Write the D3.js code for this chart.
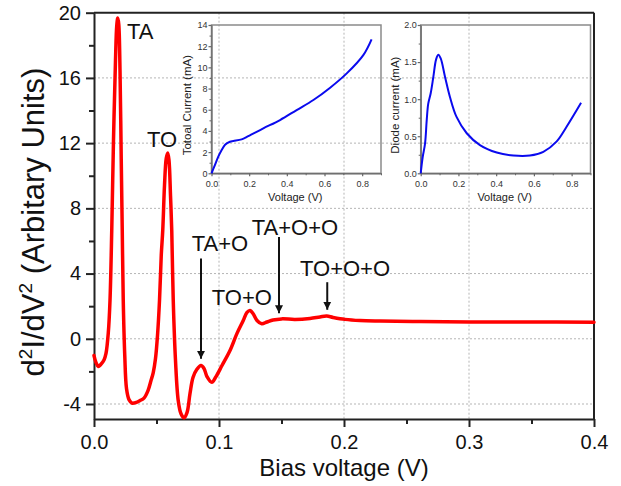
<!DOCTYPE html>
<html>
<head>
<meta charset="utf-8">
<script src="https://cdn.jsdelivr.net/npm/d3@7"></script>
<style>
  html, body { margin: 0; padding: 0; background: #fff; }
  svg { display: block; font-family: "Liberation Sans", Arial, sans-serif; }
</style>
</head>
<body>
<svg id="chart" width="621" height="486"></svg>
<script>
// ---------- DATA ----------
// Main curve: bias voltage (V) and d2I/dV2 (arbitrary units)
const biasVoltage = [0, 0.0016, 0.0034, 0.0054, 0.008, 0.0096, 0.0114, 0.0128, 0.0142, 0.0156, 0.0172, 0.0182, 0.0190, 0.0198, 0.0208, 0.0218, 0.0226, 0.0234, 0.0246, 0.026, 0.028, 0.0304, 0.0336, 0.0368, 0.04, 0.0432, 0.0456, 0.0474, 0.0492, 0.0508, 0.0524, 0.0538, 0.055, 0.0564, 0.0578, 0.059, 0.06, 0.0612, 0.0622, 0.0634, 0.0652, 0.0674, 0.0696, 0.072, 0.0744, 0.0768, 0.0792, 0.0822, 0.0856, 0.088, 0.0904, 0.0942, 0.0976, 0.1024, 0.1088, 0.1144, 0.1194, 0.1224, 0.1248, 0.1272, 0.1304, 0.1342, 0.1384, 0.1432, 0.15, 0.1608, 0.1728, 0.1808, 0.1862, 0.1912, 0.2008, 0.2128, 0.2288, 0.2608, 0.3008, 0.3488, 0.4];
const d2IdV2 = [-1.03, -1.46, -1.70, -1.58, -1.30, -0.9, 0.33, 2.35, 6.65, 12.2, 17.1, 19.2, 19.67, 19.3, 16.5, 10.95, 6.65, 2.35, -1.0, -3.05, -3.73, -3.94, -3.91, -3.79, -3.64, -3.18, -2.56, -2.07, -1.21, 0.2, 2.35, 5.12, 6.65, 9.4, 11.07, 11.4, 10.95, 8.8, 6.65, 2.35, -1.33, -3.8, -4.6, -4.85, -4.53, -3.36, -2.38, -1.89, -1.64, -1.82, -2.32, -2.67, -2.32, -1.64, -0.72, 0.33, 1.12, 1.62, 1.74, 1.55, 1.12, 0.92, 1.03, 1.15, 1.22, 1.19, 1.25, 1.34, 1.39, 1.31, 1.19, 1.12, 1.09, 1.06, 1.03, 1.03, 1.02];

// Inset 1: total current
const inset1Voltage = [0, 0.018, 0.036, 0.054, 0.072, 0.098, 0.116, 0.16, 0.195, 0.275, 0.364, 0.452, 0.541, 0.63, 0.718, 0.806, 0.85];
const inset1Current = [0, 0.78, 1.57, 2.2, 2.7, 2.98, 3.05, 3.2, 3.5, 4.24, 5.03, 5.97, 6.92, 8.08, 9.43, 11.16, 12.65];

// Inset 2: diode current
const inset2Voltage = [0, 0.0106, 0.023, 0.032, 0.040, 0.053, 0.067, 0.081, 0.093, 0.106, 0.129, 0.155, 0.19, 0.244, 0.314, 0.403, 0.491, 0.579, 0.65, 0.721, 0.774, 0.85];
const inset2Current = [0, 0.22, 0.40, 0.72, 0.94, 1.08, 1.30, 1.53, 1.60, 1.55, 1.30, 1.03, 0.76, 0.54, 0.38, 0.28, 0.24, 0.24, 0.29, 0.43, 0.63, 0.95];

// Tick values
const mainXTicks = [0, 0.1, 0.2, 0.3, 0.4];
const mainXMinor = [0.05, 0.15, 0.25, 0.35];
const mainYTicks = [-4, 0, 4, 8, 12, 16, 20];
const mainYMinor = [-2, 2, 6, 10, 14, 18];
const inset1YTicks = [0, 2, 4, 6, 8, 10, 12, 14];
const inset1YMinor = [1, 3, 5, 7, 9, 11, 13];
const inset2YTicks = [0, 0.5, 1.0, 1.5, 2.0];
const inset2YMinor = [0.25, 0.75, 1.25, 1.75];
const insetXTicks = [0, 0.2, 0.4, 0.6, 0.8];
const insetXMinor = [0.1, 0.3, 0.5, 0.7, 0.9];

// Peak labels (data coordinates) and arrows
const peakLabels = ["TA", "TO", "TA+O", "TO+O", "TA+O+O", "TO+O+O"];
const peakLabelX = [0.0264, 0.0424, 0.0782, 0.0942, 0.1262, 0.1648];
const peakLabelY = [18.38, 11.75, 5.36, 2.05, 6.35, 3.83];
const arrowX = [0.0856, 0.148, 0.1866];
const arrowFrom = [4.93, 6.24, 3.47];
const arrowTo = [-1.23, 1.57, 1.78];

// ---------- LAYOUT ----------
const svg = d3.select("#chart");
const M = { left: 94, right: 594, top: 12.7, bottom: 419 };

const x = d3.scaleLinear().domain([0, 0.4]).range([M.left, M.right]);
const y = d3.scaleLinear().domain([-4.92, 20]).range([M.bottom, M.top]);

// Grid
const grid = svg.append("g");
grid.selectAll("line.gx").data(mainXTicks.slice(1, -1)).join("line")
  .attr("x1", d => x(d)).attr("x2", d => x(d))
  .attr("y1", M.top).attr("y2", M.bottom)
  .attr("stroke", "#b5b5b5").attr("stroke-width", 1).attr("stroke-dasharray", "2,2");
grid.selectAll("line.gy").data(mainYTicks.slice(0, -1)).join("line")
  .attr("x1", M.left).attr("x2", M.right)
  .attr("y1", d => y(d)).attr("y2", d => y(d))
  .attr("stroke", "#b5b5b5").attr("stroke-width", 1).attr("stroke-dasharray", "2,2");

// Axes
function styleAxis(g, color, width) {
  g.select(".domain").attr("stroke", color).attr("stroke-width", width);
  g.selectAll(".tick line").attr("stroke", color).attr("stroke-width", width);
}
const fmtPlain = d => String(d);

const xAxis = svg.append("g").attr("transform", `translate(0,${M.bottom})`)
  .call(d3.axisBottom(x).tickValues(mainXTicks).tickFormat(d3.format(".1f")).tickSize(8).tickSizeOuter(0));
styleAxis(xAxis, "#222", 2);
xAxis.selectAll("text").attr("font-size", 20).attr("fill", "#111").attr("dy", "0.95em");
svg.append("g").attr("transform", `translate(0,${M.bottom})`)
  .call(d3.axisBottom(x).tickValues(mainXMinor).tickFormat("").tickSize(5).tickSizeOuter(0))
  .call(g => { g.select(".domain").remove(); g.selectAll("line").attr("stroke", "#222").attr("stroke-width", 2); });

const yAxis = svg.append("g").attr("transform", `translate(${M.left},0)`)
  .call(d3.axisLeft(y).tickValues(mainYTicks).tickFormat(fmtPlain).tickSize(8).tickSizeOuter(0));
styleAxis(yAxis, "#222", 2);
yAxis.selectAll("text").attr("font-size", 20).attr("fill", "#111").attr("x", -13);
svg.append("g").attr("transform", `translate(${M.left},0)`)
  .call(d3.axisLeft(y).tickValues(mainYMinor).tickFormat("").tickSize(5).tickSizeOuter(0))
  .call(g => { g.select(".domain").remove(); g.selectAll("line").attr("stroke", "#222").attr("stroke-width", 2); });

// Top & right frame
svg.append("line").attr("x1", M.left).attr("x2", M.right).attr("y1", M.top).attr("y2", M.top)
  .attr("stroke", "#222").attr("stroke-width", 2);
svg.append("line").attr("x1", M.right).attr("x2", M.right).attr("y1", M.top).attr("y2", M.bottom)
  .attr("stroke", "#222").attr("stroke-width", 2);

// Axis titles
svg.append("text").attr("x", (M.left + M.right) / 2).attr("y", 476)
  .attr("text-anchor", "middle").attr("font-size", 24).attr("fill", "#111")
  .text("Bias voltage (V)");
const yt = svg.append("text").attr("transform", "translate(44,222) rotate(-90)")
  .attr("text-anchor", "middle").attr("font-size", 31).attr("fill", "#111");
yt.append("tspan").text("d");
yt.append("tspan").attr("font-size", 19).attr("dy", -12).text("2");
yt.append("tspan").attr("dy", 12).text("I/dV");
yt.append("tspan").attr("font-size", 19).attr("dy", -12).text("2");
yt.append("tspan").attr("dy", 12).text(" (Arbitary Units)");

// ---------- INSETS ----------
function drawInset(box, xDom, yDom, yTicks, yMinor, yFmt, xs, ys, yTitle, titleX) {
  const ix = d3.scaleLinear().domain(xDom).range([box.l, box.r]);
  const iy = d3.scaleLinear().domain(yDom).range([box.b, box.t]);
  const g = svg.append("g");
  g.append("rect").attr("x", box.l).attr("y", box.t).attr("width", box.r - box.l).attr("height", box.b - box.t)
    .attr("fill", "none").attr("stroke", "#8a8a8a").attr("stroke-width", 1.5);
  const ax = g.append("g").attr("transform", `translate(0,${box.b})`)
    .call(d3.axisBottom(ix).tickValues(insetXTicks).tickFormat(d3.format(".1f")).tickSize(3).tickSizeOuter(0));
  styleAxis(ax, "#666", 1.2);
  ax.selectAll("text").attr("font-size", 9).attr("fill", "#333").attr("dy", "0.9em");
  g.append("g").attr("transform", `translate(0,${box.b})`)
    .call(d3.axisBottom(ix).tickValues(insetXMinor).tickFormat("").tickSize(2).tickSizeOuter(0))
    .call(a => { a.select(".domain").remove(); a.selectAll("line").attr("stroke", "#666"); });
  const ay = g.append("g").attr("transform", `translate(${box.l},0)`)
    .call(d3.axisLeft(iy).tickValues(yTicks).tickFormat(yFmt).tickSize(3).tickSizeOuter(0));
  styleAxis(ay, "#666", 1.2);
  ay.selectAll("text").attr("font-size", 9).attr("fill", "#333").attr("x", -4);
  g.append("g").attr("transform", `translate(${box.l},0)`)
    .call(d3.axisLeft(iy).tickValues(yMinor).tickFormat("").tickSize(2).tickSizeOuter(0))
    .call(a => { a.select(".domain").remove(); a.selectAll("line").attr("stroke", "#666"); });
  g.append("text").attr("x", (box.l + box.r) / 2 - 1).attr("y", 201)
    .attr("text-anchor", "middle").attr("font-size", 11).attr("fill", "#222").text("Voltage (V)");
  g.append("text").attr("transform", `translate(${titleX},${(box.t + box.b) / 2 + 6}) rotate(-90)`)
    .attr("text-anchor", "middle").attr("dy", "0.35em").attr("font-size", 11.5).attr("fill", "#222").text(yTitle);
  const pts = xs.map((v, i) => [v, ys[i]]);
  g.append("path").datum(pts)
    .attr("d", d3.line().x(d => ix(d[0])).y(d => iy(d[1])).curve(d3.curveCatmullRom.alpha(0.5)))
    .attr("fill", "none").attr("stroke", "#0a0aee").attr("stroke-width", 2);
}
drawInset({ l: 211.5, r: 381, t: 25, b: 173.3 }, [0, 0.9], [0, 14], inset1YTicks, inset1YMinor, fmtPlain,
  inset1Voltage, inset1Current, "Totoal Current (mA)", 187);
drawInset({ l: 420.7, r: 590.5, t: 25, b: 173.3 }, [0, 0.9], [0, 2], inset2YTicks, inset2YMinor, d3.format(".1f"),
  inset2Voltage, inset2Current, "Diode current (mA)", 395);

// ---------- MAIN CURVE ----------
const mainPts = biasVoltage.map((v, i) => [v, d2IdV2[i]]);
svg.append("path").datum(mainPts)
  .attr("d", d3.line().x(d => x(d[0])).y(d => y(d[1])).curve(d3.curveCatmullRom.alpha(0.5)))
  .attr("fill", "none").attr("stroke", "#ff0000").attr("stroke-width", 3.5)
  .attr("stroke-linejoin", "round").attr("stroke-linecap", "round");

// ---------- ANNOTATIONS ----------
svg.selectAll("text.peak").data(peakLabels).join("text")
  .attr("class", "peak")
  .attr("x", (d, i) => x(peakLabelX[i])).attr("y", (d, i) => y(peakLabelY[i]))
  .attr("font-size", 22).attr("fill", "#111").text(d => d);

const defs = svg.append("defs");
defs.append("marker").attr("id", "arr").attr("viewBox", "0 0 10 10")
  .attr("refX", 10).attr("refY", 5).attr("markerWidth", 4).attr("markerHeight", 4.5)
  .attr("markerUnits", "strokeWidth").attr("orient", "auto")
  .append("path").attr("d", "M0,0 L10,5 L0,10 Z").attr("fill", "#111");
svg.selectAll("line.arrow").data(arrowX).join("line")
  .attr("class", "arrow")
  .attr("x1", d => x(d)).attr("x2", d => x(d))
  .attr("y1", (d, i) => y(arrowFrom[i])).attr("y2", (d, i) => y(arrowTo[i]))
  .attr("stroke", "#111").attr("stroke-width", 2).attr("marker-end", "url(#arr)");
</script>
</body>
</html>
